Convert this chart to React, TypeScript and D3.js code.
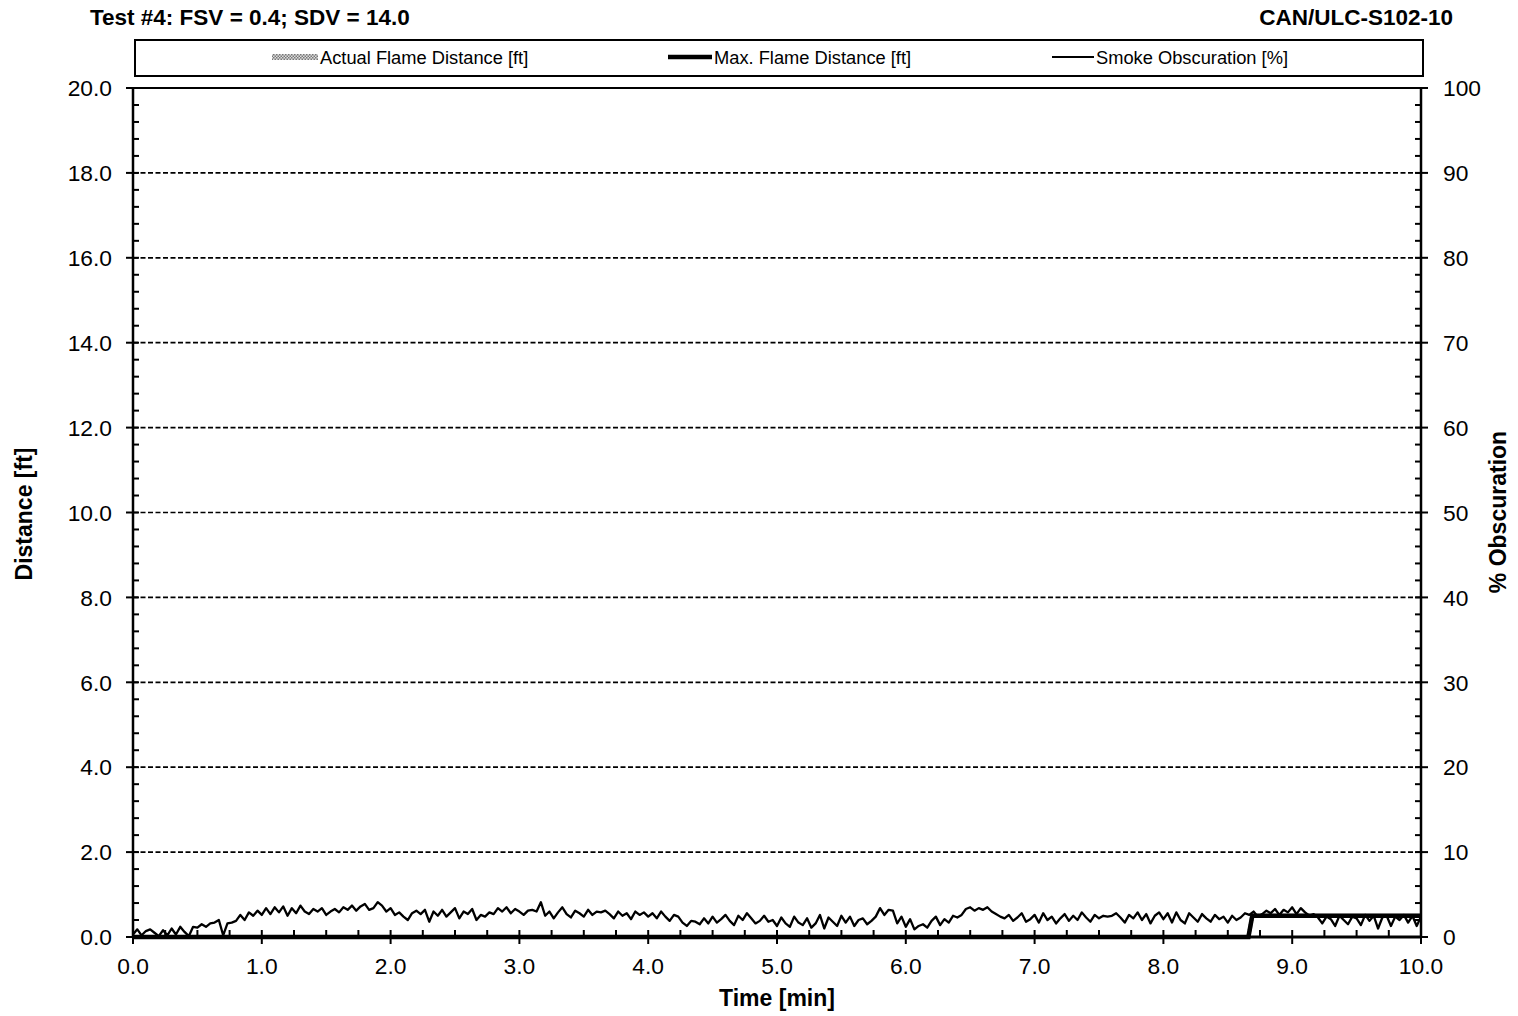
import React from "react";
import * as d3 from "d3";

// Smoke obscuration [%], one reading every 2 seconds from 0 to 10 min
const smokeObscuration: number[] = [
  // 0 min
  0.3, 0.9, 0.2, 0.7, 0.9, 0.5, 0.1, 0.8, 0.2, 1.0, 0.3, 1.2, 0.6, 0.1, 1.2,
  1.1, 1.5, 1.2, 1.6, 1.7, 2.0, 0.2, 1.6, 1.7, 1.9, 2.6, 2.0, 2.9, 2.5, 3.1,
  // 1 min
  2.6, 3.4, 2.7, 3.5, 2.9, 3.6, 2.5, 3.4, 2.8, 3.7, 3.0, 2.7, 3.3, 3.0, 3.4,
  2.6, 3.0, 3.3, 2.9, 3.5, 3.2, 3.7, 3.1, 3.6, 3.9, 3.2, 3.4, 4.1, 3.7, 3.0,
  // 2 min
  3.4, 2.6, 2.9, 2.4, 2.0, 2.8, 3.1, 2.7, 3.2, 1.8, 3.0, 2.5, 3.2, 2.4, 2.9,
  3.4, 2.2, 3.0, 2.7, 3.3, 2.0, 2.6, 2.4, 2.9, 2.7, 3.4, 3.0, 3.5, 2.8, 3.3,
  // 3 min
  3.0, 2.6, 3.1, 3.2, 3.0, 4.1, 2.5, 3.0, 2.2, 2.9, 3.5, 2.7, 2.3, 3.1, 2.8,
  2.4, 3.2, 2.6, 3.0, 2.9, 3.1, 2.7, 2.2, 3.0, 2.5, 2.8, 2.1, 3.0, 2.6, 2.9,
  // 4 min
  2.4, 2.8, 2.2, 3.0, 2.4, 1.9, 2.6, 2.4, 1.7, 1.3, 1.9, 1.8, 1.5, 2.2, 1.6,
  2.4, 1.7, 2.1, 2.6, 1.9, 1.4, 2.5, 2.0, 2.8, 2.2, 1.6, 1.9, 2.5, 1.8, 2.0,
  // 5 min
  1.3, 2.3, 1.6, 1.2, 2.4, 1.7, 1.4, 2.2, 1.1, 1.6, 2.6, 1.0, 2.3, 1.8, 1.3,
  2.5, 1.7, 2.4, 1.3, 2.0, 2.2, 1.5, 1.9, 2.4, 3.4, 2.6, 3.2, 3.1, 1.6, 2.4,
  // 6 min
  1.2, 2.1, 0.9, 1.3, 1.5, 1.1, 1.9, 2.4, 1.4, 2.1, 1.7, 2.5, 2.3, 2.6, 3.3,
  3.5, 3.1, 3.4, 3.2, 3.5, 3.0, 2.7, 2.4, 2.2, 2.6, 1.9, 2.3, 2.8, 1.8, 2.1,
  // 7 min
  2.6, 1.7, 2.8, 2.0, 2.4, 1.6, 2.2, 2.7, 1.9, 2.5, 2.0, 2.9, 2.3, 1.8, 2.6,
  2.2, 2.5, 2.4, 2.5, 2.8, 2.3, 1.7, 2.6, 2.2, 2.9, 2.0, 2.7, 1.6, 2.5, 2.9,
  // 8 min
  2.1, 2.8, 1.7, 2.9, 2.0, 1.6, 2.8, 2.3, 1.8, 2.7, 2.2, 1.8, 2.6, 2.1, 2.4,
  1.7, 2.5, 2.0, 2.3, 2.8, 2.6, 3.0, 2.4, 2.7, 3.1, 2.8, 3.3, 2.6, 3.2, 2.9,
  // 9 min
  3.5, 2.7, 3.4, 2.9, 2.5, 2.7, 2.3, 1.6, 2.4, 2.1, 1.3, 2.5, 2.0, 1.5, 2.4,
  2.2, 1.4, 2.6, 1.9, 2.5, 1.0, 2.3, 2.5, 1.3, 2.4, 2.0, 2.6, 1.7, 2.5, 1.3,
  // 10 min
  2.4,
];
const smokeIntervalMin = 2 / 60;

// Flame front readings: [time min, distance ft]
const maxFlameDistance: [number, number][] = [
  [0, 0],
  [8.66, 0],
  [8.69, 0.5],
  [10, 0.5],
];
const actualFlameDistance: [number, number][] = [
  [0, 0],
  [8.66, 0],
  [8.69, 0.5],
  [10, 0.5],
];

const timeTicks = [0, 1, 2, 3, 4, 5, 6, 7, 8, 9, 10];
const distanceTicks = [0, 2, 4, 6, 8, 10, 12, 14, 16, 18, 20];
const obscurationTicks = [0, 10, 20, 30, 40, 50, 60, 70, 80, 90, 100];

const legendItems = [
  { label: "Actual Flame Distance [ft]", kind: "hatch", x: 272 },
  { label: "Max. Flame Distance [ft]", kind: "thick", x: 668 },
  { label: "Smoke Obscuration [%]", kind: "thin", x: 1052 },
];

const W = 1518;
const H = 1016;
const plot = { left: 133, right: 1421, top: 88, bottom: 937 };
const FONT = "'Liberation Sans', Arial, sans-serif";

export default function App() {
  const x = d3.scaleLinear().domain([0, 10]).range([plot.left, plot.right]);
  const yL = d3.scaleLinear().domain([0, 20]).range([plot.bottom, plot.top]);
  const yR = d3.scaleLinear().domain([0, 100]).range([plot.bottom, plot.top]);

  const minorTime = d3.range(0, 10.001, 0.25).filter((t) => Math.abs(t - Math.round(t)) > 1e-6);
  const minorDist = d3.range(0, 20.001, 0.4).filter((v) => Math.abs(v / 2 - Math.round(v / 2)) > 1e-6);
  const minorObs = d3.range(0, 100.001, 2).filter((v) => v % 10 !== 0);

  const smokeLine = d3
    .line<number>()
    .x((_, i) => x(i * smokeIntervalMin))
    .y((v) => yR(v))(smokeObscuration) as string;

  const flameLine = d3
    .line<[number, number]>()
    .x((d) => x(d[0]))
    .y((d) => yL(d[1]));

  return (
    <svg
      width={W}
      height={H}
      style={{ position: "absolute", left: 0, top: 0, background: "#fff" }}
      fontFamily={FONT}
    >
      <defs>
        <pattern id="hatch" width="3" height="3" patternUnits="userSpaceOnUse">
          <rect width="3" height="3" fill="#ddd" />
          <rect width="1.5" height="1.5" fill="#777" />
          <rect x="1.5" y="1.5" width="1.5" height="1.5" fill="#777" />
        </pattern>
      </defs>
      <rect width={W} height={H} fill="#fff" />

      {/* Header */}
      <text x={90} y={25} fontSize={22.5} fontWeight="bold">
        Test #4: FSV = 0.4; SDV = 14.0
      </text>
      <text x={1453} y={25} fontSize={22.5} fontWeight="bold" textAnchor="end">
        CAN/ULC-S102-10
      </text>

      {/* Legend */}
      <rect x={135} y={40} width={1288} height={36} fill="#fff" stroke="#000" strokeWidth={2} />
      {legendItems.map((item) => (
        <g key={item.label}>
          {item.kind === "hatch" && (
            <rect x={item.x} y={54} width={46} height={6} fill="url(#hatch)" />
          )}
          {item.kind === "thick" && (
            <line x1={item.x} x2={item.x + 44} y1={57} y2={57} stroke="#000" strokeWidth={4.5} />
          )}
          {item.kind === "thin" && (
            <line x1={item.x} x2={item.x + 42} y1={57} y2={57} stroke="#000" strokeWidth={2} />
          )}
          <text
            x={item.x + (item.kind === "hatch" ? 48 : item.kind === "thick" ? 46 : 44)}
            y={63.5}
            fontSize={18.3}
          >
            {item.label}
          </text>
        </g>
      ))}

      {/* Gridlines */}
      {distanceTicks
        .filter((v) => v > 0 && v < 20)
        .map((v) => (
          <line
            key={"g" + v}
            x1={plot.left}
            x2={plot.right}
            y1={yL(v)}
            y2={yL(v)}
            stroke="#000"
            strokeWidth={1.7}
            strokeDasharray="5,2.5"
          />
        ))}

      {/* Series */}
      <path
        d={flameLine(actualFlameDistance) as string}
        fill="none"
        stroke="url(#hatch)"
        strokeWidth={4}
      />
      <path d={smokeLine} fill="none" stroke="#000" strokeWidth={2.3} strokeLinejoin="round" />
      <path
        d={flameLine(maxFlameDistance) as string}
        fill="none"
        stroke="#000"
        strokeWidth={4.5}
        strokeLinejoin="miter"
      />

      {/* Plot frame */}
      <line x1={plot.left} x2={plot.right} y1={plot.top} y2={plot.top} stroke="#000" strokeWidth={2} />
      <line x1={plot.left} x2={plot.left} y1={plot.top} y2={plot.bottom} stroke="#000" strokeWidth={2.5} />
      <line x1={plot.right} x2={plot.right} y1={plot.top} y2={plot.bottom} stroke="#000" strokeWidth={2.5} />
      <line x1={plot.left} x2={plot.right} y1={plot.bottom} y2={plot.bottom} stroke="#000" strokeWidth={3} />

      {/* Left axis */}
      {minorDist.map((v) => (
        <line key={"ml" + v} x1={plot.left} x2={plot.left + 6} y1={yL(v)} y2={yL(v)} stroke="#000" strokeWidth={2} />
      ))}
      {distanceTicks.map((v) => (
        <g key={"l" + v}>
          <line x1={plot.left - 7} x2={plot.left + 6} y1={yL(v)} y2={yL(v)} stroke="#000" strokeWidth={2} />
          <text x={112} y={yL(v)} dy="0.36em" fontSize={22.8} textAnchor="end">
            {v.toFixed(1)}
          </text>
        </g>
      ))}

      {/* Right axis */}
      {minorObs.map((v) => (
        <line key={"mr" + v} x1={plot.right - 6} x2={plot.right} y1={yR(v)} y2={yR(v)} stroke="#000" strokeWidth={2} />
      ))}
      {obscurationTicks.map((v) => (
        <g key={"r" + v}>
          <line x1={plot.right - 6} x2={plot.right + 7} y1={yR(v)} y2={yR(v)} stroke="#000" strokeWidth={2} />
          <text x={1443} y={yR(v)} dy="0.36em" fontSize={22.8}>
            {v}
          </text>
        </g>
      ))}

      {/* Bottom axis */}
      {minorTime.map((t) => (
        <line key={"mb" + t} x1={x(t)} x2={x(t)} y1={plot.bottom - 7} y2={plot.bottom} stroke="#000" strokeWidth={2} />
      ))}
      {timeTicks.map((t) => (
        <g key={"b" + t}>
          <line x1={x(t)} x2={x(t)} y1={plot.bottom - 7} y2={plot.bottom + 7} stroke="#000" strokeWidth={2} />
          <text x={x(t)} y={974} fontSize={22.8} textAnchor="middle">
            {t.toFixed(1)}
          </text>
        </g>
      ))}

      {/* Axis titles */}
      <text x={777} y={1006} fontSize={23} fontWeight="bold" textAnchor="middle">
        Time [min]
      </text>
      <text
        transform={`translate(32,514) rotate(-90)`}
        fontSize={23}
        fontWeight="bold"
        textAnchor="middle"
      >
        Distance [ft]
      </text>
      <text
        transform={`translate(1506,512) rotate(-90)`}
        fontSize={23}
        fontWeight="bold"
        textAnchor="middle"
      >
        % Obscuration
      </text>
    </svg>
  );
}
